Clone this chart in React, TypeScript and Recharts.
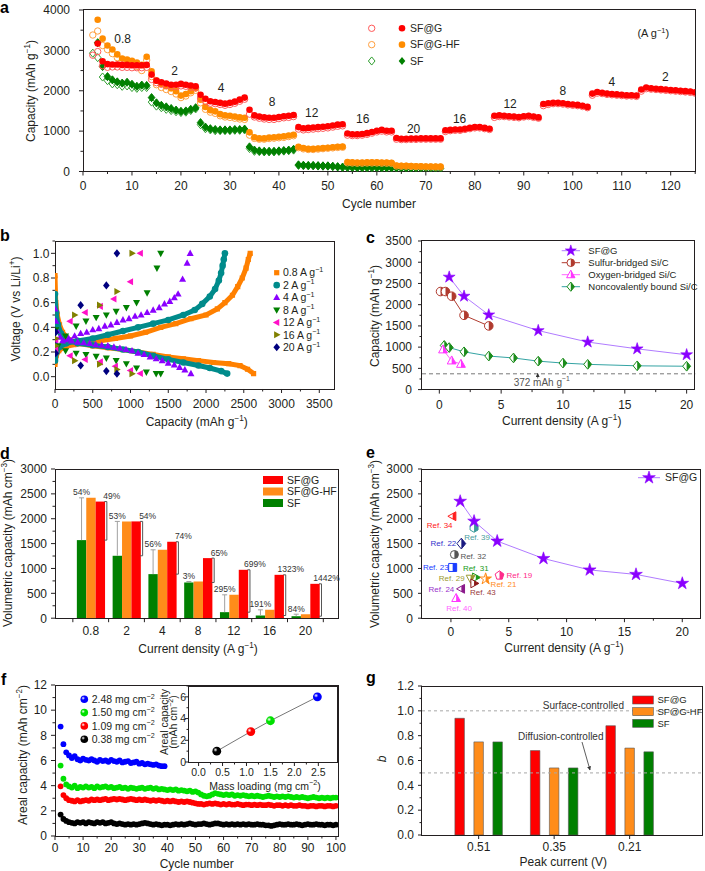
import React, { useId } from 'react';
import { ScatterChart, Scatter, BarChart, Bar, XAxis, YAxis, ReferenceLine } from 'recharts';

const FONT = '"Liberation Sans", Arial, Helvetica, sans-serif';
const INK = '#231f20';
const RED = '#ff0000';
const ORANGE = '#ff8c00';
const GREEN = '#008000';

// ---------- panel a: rate performance (capacity per cycle) ----------
const A_SFG_OPEN = [ // cycles 2..125
  2880, 2970, 2620, 2580, 2590, 2590, 2580, 2580, 2570, 2570, 2570, 2580,
  2280, 2200, 2160, 2130, 2110, 2100, 2120, 2110, 2090, 2070,
  1820, 1740, 1690, 1680, 1660, 1640, 1660, 1690, 1740, 1790,
  1420, 1350, 1320, 1300, 1290, 1290, 1310, 1330, 1340, 1360,
  1050, 1030, 1040, 1050, 1060, 1070, 1080, 1100, 1120, 1130,
  900, 890, 890, 900, 920, 950, 980, 1000, 980, 980,
  800, 790, 790, 795, 795, 800, 800, 800, 800, 800,
  990, 1010, 1020, 1020, 1040, 1060, 1080, 1080, 1060, 1040,
  1340, 1360, 1360, 1350, 1340, 1330, 1350, 1360, 1340, 1320,
  1630, 1660, 1680, 1680, 1670, 1650, 1640, 1630, 1610, 1580,
  1890, 1940, 1930, 1910, 1900, 1890, 1880, 1870, 1870, 1860,
  1990, 2050, 2040, 2030, 2020, 2010, 2000, 1990, 1980, 1970, 1960, 1940,
];
const A_SFG_FILL = [ // cycles 3..125
  3170, 2730, 2660, 2650, 2650, 2640, 2640, 2630, 2630, 2630, 2640,
  2400, 2250, 2210, 2180, 2150, 2150, 2170, 2150, 2130, 2110,
  1900, 1800, 1740, 1720, 1700, 1680, 1700, 1730, 1780, 1830,
  1530, 1390, 1360, 1340, 1330, 1330, 1350, 1370, 1380, 1400,
  1100, 1070, 1080, 1090, 1100, 1110, 1120, 1140, 1160, 1170,
  940, 920, 920, 930, 950, 980, 1010, 1030, 1010, 1010,
  830, 810, 810, 815, 815, 820, 820, 820, 820, 820,
  1020, 1030, 1040, 1040, 1060, 1080, 1100, 1100, 1080, 1060,
  1380, 1390, 1380, 1370, 1360, 1350, 1370, 1380, 1360, 1340,
  1670, 1690, 1700, 1700, 1690, 1670, 1660, 1650, 1630, 1600,
  1930, 1970, 1950, 1930, 1920, 1910, 1900, 1890, 1890, 1880,
  2030, 2080, 2060, 2050, 2040, 2030, 2020, 2010, 2000, 1990, 1980, 1960,
];
const A_HF_OPEN = [ // cycles 2..73
  3380, 3480, 3120, 3020, 2920, 2820, 2740, 2700, 2650, 2600, 2500, 2760,
  2350, 2150, 2080, 2030, 1980, 1920, 1830, 1870, 1950, 2010,
  1700, 1540, 1470, 1440, 1380, 1350, 1340, 1320, 1300, 1290,
  900, 820, 800, 800, 815, 825, 835, 845, 865, 885,
  590, 560, 545, 545, 555, 565, 575, 585, 595, 600,
  215, 210, 205, 205, 210, 210, 210, 205, 205, 200,
  135, 130, 130, 125, 120, 120, 115, 115, 110, 110,
];
const A_HF_FILL = [ // cycles 3..73
  3760, 3290, 3120, 3020, 2900, 2800, 2770, 2740, 2700, 2640, 2840,
  2480, 2250, 2170, 2110, 2060, 1990, 1880, 1920, 1990, 2060,
  1780, 1600, 1520, 1490, 1420, 1390, 1380, 1360, 1340, 1330,
  970, 850, 820, 820, 840, 850, 860, 870, 890, 910,
  610, 580, 560, 560, 570, 580, 590, 600, 610, 615,
  235, 225, 220, 220, 225, 225, 225, 220, 220, 215,
  150, 140, 140, 135, 130, 130, 125, 125, 120, 120,
];
const A_SF_OPEN = [ // cycles 2..73
  2930, 2820, 2340, 2250, 2170, 2150, 2110, 2120, 2080, 2060, 2080, 2080,
  1720, 1620, 1580, 1540, 1510, 1480, 1460, 1470, 1510, 1550,
  1160, 1060, 1030, 1010, 1010, 1010, 1010, 1020, 1020, 1030,
  570, 500, 490, 485, 485, 485, 495, 505, 515, 530,
  150, 145, 140, 140, 135, 130, 130, 120, 110, 100,
  95, 92, 90, 90, 88, 88, 88, 86, 86, 85,
  84, 82, 80, 80, 80, 78, 78, 77, 76, 76,
];
const A_SF_FILL = [ // cycles 3..73
  3190, 2600, 2350, 2270, 2220, 2190, 2210, 2160, 2110, 2140, 2130,
  1830, 1700, 1640, 1600, 1560, 1520, 1490, 1500, 1540, 1580,
  1210, 1100, 1060, 1040, 1030, 1030, 1030, 1040, 1040, 1050,
  610, 530, 510, 500, 500, 500, 510, 520, 530, 550,
  165, 155, 150, 150, 145, 140, 140, 130, 120, 110,
  110, 105, 100, 100, 100, 98, 98, 96, 96, 95,
  95, 92, 90, 90, 90, 88, 88, 87, 86, 85,
];
const A_RATE_TEXT = ['0.8', '2', '4', '8', '12', '16', '20', '16', '12', '8', '4', '2'];
const A_RATE_CYCLE = [8.1, 18.7, 28.2, 38.6, 46.7, 57.1, 67.5, 76.9, 87.2, 98, 108, 118.9];
const A_RATE_CAP = [3300, 2490, 2080, 1720, 1450, 1310, 1060, 1310, 1680, 1990, 2220, 2360];

// ---------- panel b: voltage profiles [capacity, voltage] ----------
const B08_DIS = [[0, 0.82], [10, 0.6], [30, 0.5], [60, 0.42], [100, 0.36], [180, 0.3], [300, 0.27], [500, 0.25], [700, 0.235], [900, 0.22], [1100, 0.2], [1300, 0.18], [1500, 0.16], [1700, 0.145], [1900, 0.13], [2100, 0.115], [2300, 0.105], [2450, 0.09], [2550, 0.06], [2630, 0.025]];
const B08_CHG = [[0, 0.1], [15, 0.17], [50, 0.21], [120, 0.24], [250, 0.26], [400, 0.27], [600, 0.29], [800, 0.31], [1000, 0.33], [1200, 0.36], [1400, 0.4], [1600, 0.43], [1800, 0.47], [2000, 0.5], [2150, 0.55], [2250, 0.6], [2350, 0.66], [2420, 0.73], [2480, 0.8], [2530, 0.88], [2560, 0.95], [2585, 1.0]];
const B2_DIS = [[0, 0.67], [15, 0.52], [40, 0.42], [80, 0.35], [150, 0.3], [300, 0.27], [500, 0.255], [700, 0.24], [900, 0.22], [1100, 0.2], [1300, 0.17], [1500, 0.14], [1700, 0.115], [1900, 0.09], [2050, 0.07], [2200, 0.045], [2280, 0.025]];
const B2_CHG = [[0, 0.13], [20, 0.2], [60, 0.24], [150, 0.27], [300, 0.29], [500, 0.31], [700, 0.34], [900, 0.37], [1100, 0.4], [1300, 0.43], [1500, 0.46], [1700, 0.5], [1850, 0.54], [1950, 0.59], [2050, 0.65], [2120, 0.71], [2170, 0.78], [2200, 0.84], [2220, 0.9], [2235, 0.95], [2250, 1.0]];
const B4_DIS = [[0, 0.55], [10, 0.45], [30, 0.37], [70, 0.32], [140, 0.3], [220, 0.29], [300, 0.28], [380, 0.275], [460, 0.27], [540, 0.26], [620, 0.255], [700, 0.25], [780, 0.24], [860, 0.23], [940, 0.22], [1020, 0.21], [1100, 0.19], [1180, 0.18], [1260, 0.16], [1340, 0.145], [1420, 0.13], [1500, 0.11], [1580, 0.095], [1650, 0.075], [1720, 0.055], [1800, 0.025]];
const B4_CHG = [[20, 0.26], [100, 0.29], [180, 0.31], [260, 0.33], [340, 0.35], [420, 0.36], [500, 0.38], [580, 0.39], [660, 0.41], [740, 0.42], [820, 0.44], [900, 0.46], [980, 0.47], [1060, 0.49], [1140, 0.5], [1220, 0.52], [1300, 0.54], [1380, 0.56], [1450, 0.59], [1520, 0.61], [1580, 0.64], [1630, 0.67], [1690, 0.79], [1750, 0.92], [1790, 1.0]];
const B8_DIS = [[10, 0.38], [40, 0.25], [140, 0.21], [280, 0.19], [410, 0.18], [545, 0.165], [680, 0.15], [810, 0.13], [945, 0.105], [1080, 0.07], [1210, 0.037], [1340, 0.025], [1400, 0.025]];
const B8_CHG = [[10, 0.2], [140, 0.33], [280, 0.41], [410, 0.45], [545, 0.48], [680, 0.5], [810, 0.53], [945, 0.56], [1080, 0.6], [1220, 0.68], [1350, 0.88], [1400, 1.0]];
const B12_DIS = [[10, 0.3], [200, 0.17], [400, 0.14], [600, 0.12], [800, 0.085], [1000, 0.05], [1130, 0.026]];
const B12_CHG = [[10, 0.22], [200, 0.45], [400, 0.52], [600, 0.57], [780, 0.63], [1000, 0.77], [1130, 1.0]];
const B16_DIS = [[10, 0.31], [260, 0.13], [590, 0.1], [820, 0.058], [1020, 0.024]];
const B16_CHG = [[10, 0.25], [260, 0.5], [590, 0.58], [820, 0.69], [1020, 1.0]];
const B20_DIS = [[10, 0.36], [340, 0.09], [680, 0.045], [820, 0.024]];
const B20_CHG = [[10, 0.19], [340, 0.58], [680, 0.74], [820, 1.0]];
const B_RATES = ['0.8', '2', '4', '8', '12', '16', '20'];

// ---------- panel c: capacity vs current density ----------
const C_SFG = [[0.8, 2650], [2, 2200], [4, 1760], [8, 1390], [12, 1120], [16, 960], [20, 820]];
const C_SULFUR = [[0.1, 2310], [0.5, 2310], [1, 2200], [2, 1750], [4, 1500]];
const C_OXYGEN = [[0.3, 940], [1, 680], [1.75, 600]];
const C_NONCOV = [[0.4, 1040], [0.8, 990], [2, 890], [4, 790], [6, 745], [8, 670], [10, 625], [12, 595], [16, 560], [20, 550]];
const C_GRAPHITE = 372;

// ---------- panel d: volumetric capacity bars ----------
const D_CATS = ['0.8', '2', '4', '8', '12', '16', '20'];
const D_SF = [1570, 1255, 886, 718, 121, 54, 40];
const D_HF = [2420, 1946, 1375, 738, 470, 168, 80];
const D_G = [2345, 1946, 1537, 1208, 973, 872, 691];
const D_PCT_HF = ['54%', '53%', '56%', '3%', '295%', '191%', '84%'];
const D_PCT_G = ['49%', '54%', '74%', '65%', '699%', '1323%', '1442%'];

// ---------- panel e: comparison with literature ----------
const E_SFG = [[0.8, 2350], [2, 1950], [4, 1550], [8, 1200], [12, 970], [16, 880], [20, 700]];
const E_REFS = [
  { ref: '34', x: 0.15, y: 2050 }, { ref: '39', x: 2.0, y: 1820 }, { ref: '22', x: 0.9, y: 1500 },
  { ref: '32', x: 0.3, y: 1280 }, { ref: '23', x: 0.15, y: 1020 }, { ref: '31', x: 2.15, y: 820 },
  { ref: '29', x: 1.7, y: 800 }, { ref: '43', x: 2.0, y: 700 }, { ref: '21', x: 3.0, y: 790 },
  { ref: '19', x: 4.2, y: 860 }, { ref: '24', x: 0.9, y: 590 }, { ref: '40', x: 0.45, y: 400 },
];

// ---------- panel f: areal capacity ----------
const F_248 = [8.7, 7.3, 6.65, 6.4, 6.2, 6.35, 6.1, 6.0, 6.15, 6.05, 6.0, 6.1, 6.0, 5.9, 6.05, 5.95, 6.0, 5.9, 6.05, 5.95, 5.9, 6.0, 5.85, 5.9, 5.95, 5.8, 5.85, 5.9, 5.75, 5.8, 5.7, 5.75, 5.7, 5.65, 5.7, 5.6, 5.55, 5.55];
const F_150 = [
  5.6, 4.55, 4.1, 3.95, 3.85, 4.0, 3.8, 3.9, 3.85, 3.95, 3.85, 3.9, 3.8, 3.95, 3.85, 3.9, 3.95, 3.85, 3.9, 3.8,
  3.85, 3.9, 3.8, 3.85, 3.75, 3.85, 3.8, 3.75, 3.8, 3.85, 3.75, 3.8, 3.85, 3.75, 3.8, 3.7, 3.75, 3.7, 3.65, 3.7,
  3.65, 3.7, 3.6, 3.65, 3.6, 3.55, 3.6, 3.5, 3.55, 3.45, 3.3, 3.2, 3.15, 3.2, 3.3, 3.4, 3.35, 3.3, 3.25, 3.3,
  3.25, 3.3, 3.2, 3.25, 3.2, 3.25, 3.2, 3.15, 3.2, 3.15, 3.2, 3.15, 3.1, 3.15, 3.2, 3.15, 3.1, 3.15, 3.1, 3.15,
  3.1, 3.15, 3.1, 3.05, 3.1, 3.05, 3.1, 3.05, 3.0, 3.05, 3.1, 3.05, 3.0, 3.05, 3.0, 3.05, 3.0, 3.05, 3.05,
];
const F_109 = [
  3.95, 3.25, 3.0, 2.85, 2.8, 2.75, 2.85, 2.75, 2.8, 2.85, 2.8, 2.9, 2.85, 2.9, 2.85, 2.9, 2.95, 2.85, 2.9, 2.95,
  2.9, 2.95, 2.9, 2.85, 2.9, 2.95, 2.9, 2.85, 2.9, 2.85, 2.9, 2.85, 2.8, 2.85, 2.8, 2.85, 2.8, 2.75, 2.8, 2.75,
  2.8, 2.75, 2.7, 2.75, 2.7, 2.75, 2.7, 2.65, 2.6, 2.55, 2.55, 2.5, 2.55, 2.6, 2.55, 2.6, 2.55, 2.5, 2.55, 2.5,
  2.55, 2.5, 2.5, 2.55, 2.5, 2.45, 2.5, 2.5, 2.45, 2.5, 2.45, 2.5, 2.45, 2.45, 2.5, 2.45, 2.4, 2.45, 2.45, 2.4,
  2.45, 2.4, 2.45, 2.4, 2.4, 2.45, 2.4, 2.4, 2.35, 2.4, 2.4, 2.35, 2.4, 2.4, 2.35, 2.4, 2.4, 2.35, 2.4,
];
const F_038 = [
  1.7, 1.35, 1.2, 1.1, 1.05, 1.0, 1.1, 1.05, 1.1, 1.0, 1.1, 1.05, 1.0, 1.1, 1.05, 1.1, 1.0, 1.05, 1.1, 1.0,
  0.95, 1.0, 0.95, 0.9, 0.95, 0.9, 0.95, 0.9, 0.95, 1.0, 1.05, 1.0, 0.95, 0.9, 0.95, 0.9, 0.85, 0.9, 0.9, 0.85,
  0.9, 0.95, 0.9, 0.95, 0.9, 0.95, 1.0, 0.95, 0.9, 0.95, 0.95, 1.0, 0.95, 0.9, 0.95, 1.0, 1.0, 0.95, 0.9, 0.95,
  0.9, 0.95, 0.9, 0.95, 0.9, 0.95, 0.9, 0.95, 0.9, 0.9, 0.95, 0.9, 0.9, 0.85, 0.85, 0.8, 0.85, 0.9, 0.95, 0.9,
  0.9, 0.95, 0.9, 0.9, 0.95, 0.9, 0.85, 0.9, 0.95, 0.9, 0.9, 0.95, 0.9, 0.9, 0.85, 0.9, 0.9, 0.85, 0.9,
];
const F_LOADING = [0.38, 1.09, 1.5, 2.48];
const F_AREAL = [1.0, 2.8, 3.8, 6.0];
const F_LABELS = ['2.48', '1.50', '1.09', '0.38'];

// ---------- panel g: b values ----------
const G_CATS = ['0.51', '0.35', '0.21'];
const G_SFG = [0.94, 0.68, 0.88];
const G_HF = [0.75, 0.54, 0.7];
const G_SF = [0.75, 0.54, 0.67];

// ---------- layout (page px) ----------
const PL = 50, PT = 10, PR = 10, PB = 26;
const M = { top: PT, right: PR, bottom: 0, left: 0 };
const R_A = [83.3, 9.5, 695.5, 171];
const R_B = [55, 241, 334.4, 389];
const R_C = [421.7, 240.7, 695, 389.3];
const R_D = [55, 469.3, 338.3, 618.5];
const R_E = [421.7, 469.3, 700.5, 618.5];
const R_F = [55, 685, 338.2, 836];
const R_FI = [188.5, 686, 337, 762];
const R_G = [421.7, 686, 702.7, 835];

const place = (r: number[]) => ({
  style: { position: 'absolute' as const, left: r[0] - PL, top: r[1] - PT },
  w: r[2] - r[0] + PL + PR,
  h: r[3] - r[1] + PT + PB,
});

const seq = (start: number, ys: number[]) => ys.map((y, i) => ({ x: start + i, y }));
const pairs = (a: number[][]) => a.map(([x, y]) => ({ x, y }));

function withMinors(majors: number[], hi?: number) {
  const out: number[] = [];
  majors.forEach((m, i) => {
    out.push(m);
    if (i < majors.length - 1) out.push((m + majors[i + 1]) / 2);
  });
  if (hi !== undefined) {
    const last = majors[majors.length - 1] + (majors[1] - majors[0]) / 2;
    if (last <= hi + 1e-9) out.push(last);
  }
  return out;
}
const isMajor = (majors: number[], v: number) => majors.some((m) => Math.abs(m - v) < 1e-6);

const xTick = (majors: number[], gap: number, fmt: (v: number) => string = String, fs = 12) => (p: any) => {
  const v = p.payload.value;
  const mj = isMajor(majors, v);
  return (
    <g>
      <line x1={p.x} x2={p.x} y1={p.y} y2={p.y + (mj ? 4 : 2.5)} stroke={INK} />
      {mj && <text x={p.x} y={p.y + gap} textAnchor="middle" fontSize={fs} fontFamily={FONT} fill={INK}>{fmt(v)}</text>}
    </g>
  );
};
const yTick = (majors: number[], gap: number, fmt: (v: number) => string = String, fs = 12) => (p: any) => {
  const v = p.payload.value;
  const mj = isMajor(majors, v);
  return (
    <g>
      <line x1={p.x} x2={p.x - (mj ? 4 : 2.5)} y1={p.y} y2={p.y} stroke={INK} />
      {mj && <text x={p.x - gap} y={p.y + fs * 0.36} textAnchor="end" fontSize={fs} fontFamily={FONT} fill={INK}>{fmt(v)}</text>}
    </g>
  );
};

function pts(kind: string, cx: number, cy: number, s: number) {
  const P: Record<string, number[][]> = {
    square: [[-1, -1], [1, -1], [1, 1], [-1, 1]],
    up: [[0, -1.2], [1.1, 0.8], [-1.1, 0.8]],
    down: [[0, 1.2], [1.1, -0.8], [-1.1, -0.8]],
    left: [[-1.2, 0], [0.8, -1.1], [0.8, 1.1]],
    right: [[1.2, 0], [-0.8, -1.1], [-0.8, 1.1]],
    diamond: [[0, -1.35], [1.1, 0], [0, 1.35], [-1.1, 0]],
  };
  let p = P[kind];
  if (!p) {
    const n = kind === 'hex' ? 6 : kind === 'pent' ? 5 : 10;
    p = Array.from({ length: n }, (_, i) => {
      const a = -Math.PI / 2 + (i * 2 * Math.PI) / n;
      const r = kind === 'star' ? (i % 2 ? 0.55 : 1.45) : 1.15;
      return [r * Math.cos(a), r * Math.sin(a)];
    });
  }
  return p.map(([a, b]) => `${cx + a * s},${cy + b * s}`).join(' ');
}

function Mark({ kind, cx, cy, s, color, fill, half, sw = 1 }: any) {
  const id = 'h' + useId().replace(/[^a-zA-Z0-9]/g, '');
  const body = (f: string, extra: any) =>
    kind === 'circle'
      ? <circle cx={cx} cy={cy} r={s} fill={f} {...extra} />
      : <polygon points={pts(kind, cx, cy, s)} fill={f} {...extra} />;
  if (half) {
    return (
      <g>
        <clipPath id={id}><rect x={cx} y={cy - 3 * s} width={3 * s} height={6 * s} /></clipPath>
        {body('#fff', { stroke: color, strokeWidth: sw })}
        {body(color, { clipPath: `url(#${id})` })}
      </g>
    );
  }
  return body(fill ?? color, { stroke: color, strokeWidth: sw });
}
const shp = (kind: string, s: number, color: string, extra: any = {}) => (p: any) =>
  <Mark kind={kind} cx={p.cx} cy={p.cy} s={s} color={color} {...extra} />;

function Lbl({ x, y, t, size = 12, anchor = 'middle', rot = false, color = INK, bold = false, italic = false }: any) {
  const parts = String(t).split(/(\^\{[^}]*\})/).filter((s) => s !== '');
  let up = false;
  return (
    <text x={x} y={y + size * 0.35} transform={rot ? `rotate(-90 ${x} ${y})` : undefined}
      fontSize={size} fontFamily={FONT} textAnchor={anchor} fill={color}
      fontWeight={bold ? 'bold' : 'normal'} fontStyle={italic ? 'italic' : 'normal'}>
      {parts.map((s, i) => {
        if (s.startsWith('^{')) {
          up = true;
          return <tspan key={i} fontSize={size * 0.68} dy={-size * 0.42}>{s.slice(2, -1)}</tspan>;
        }
        const dy = up ? size * 0.42 : 0;
        up = false;
        return <tspan key={i} dy={dy}>{s}</tspan>;
      })}
    </text>
  );
}

const Frame = ({ r }: { r: number[] }) => (
  <div style={{ position: 'absolute', left: r[0] - 0.5, top: r[1] - 0.5, width: r[2] - r[0] + 1, height: r[3] - r[1] + 1, border: `1px solid ${INK}`, boxSizing: 'border-box' }} />
);

const axisCommon = { tickSize: 0, tickMargin: 0, tickLine: false, axisLine: false, interval: 0 as const, allowDataOverflow: true };

const E_STYLE: Record<string, any> = {
  '34': { kind: 'left', color: '#ff2020', lab: '#ff2020', anchor: 'middle', dx: -13, dy: 8.5 },
  '39': { kind: 'hex', color: '#3a9a9a', lab: '#4a9c9c', anchor: 'middle', dx: 3, dy: 9.5 },
  '22': { kind: 'diamond', color: '#1a1a80', lab: '#3333cc', anchor: 'end', dx: -5, dy: 0 },
  '32': { kind: 'circle', color: '#555', lab: '#555', anchor: 'start', dx: 6, dy: 1.5 },
  '23': { kind: 'square', color: '#1a3cff', lab: '#1a3cff', anchor: 'end', dx: -4, dy: 0 },
  '31': { kind: 'right', color: '#1a9a1a', lab: '#1a9a1a', anchor: 'middle', dx: 0, dy: -9.5 },
  '29': { kind: 'down', color: '#9a9a30', lab: '#9a9a30', anchor: 'end', dx: -6, dy: 0 },
  '43': { kind: 'right', color: '#8b1a1a', lab: '#9a3a3a', anchor: 'start', dx: -4, dy: 9 },
  '21': { kind: 'star', color: '#ff8c1a', lab: '#ff8c1a', anchor: 'start', dx: 5, dy: 5.5 },
  '19': { kind: 'pent', color: '#ff2a8a', lab: '#ff2a8a', anchor: 'start', dx: 7, dy: 0 },
  '24': { kind: 'left', color: '#8b1a8b', lab: '#9933cc', anchor: 'end', dx: -7, dy: 0 },
  '40': { kind: 'up', color: '#ff33ff', lab: '#ff66ff', anchor: 'middle', dx: 3, dy: 10 },
};

const B_STYLE = [
  { kind: 'square', color: '#ff8000', s: 2.6, dense: true },
  { kind: 'circle', color: '#008b8b', s: 3.3, dense: true },
  { kind: 'up', color: '#8a00ff', s: 3.2 },
  { kind: 'down', color: '#008000', s: 3.2 },
  { kind: 'left', color: '#ff10c8', s: 3.2 },
  { kind: 'right', color: '#808000', s: 3.2 },
  { kind: 'diamond', color: '#00007f', s: 3 },
];
const B_DATA = [[B08_DIS, B08_CHG], [B2_DIS, B2_CHG], [B4_DIS, B4_CHG], [B8_DIS, B8_CHG], [B12_DIS, B12_CHG], [B16_DIS, B16_CHG], [B20_DIS, B20_CHG]];

const F_COLORS = ['#0000ff', '#00e000', '#ff0000', '#000000'];
const F_SERIES = [F_038, F_109, F_150];

export default function App() {
  const pa = place(R_A), pb = place(R_B), pc = place(R_C), pd = place(R_D);
  const pe = place(R_E), pf = place(R_F), pfi = place(R_FI), pg = place(R_G);

  const A_XMAJ = [0, 10, 20, 30, 40, 50, 60, 70, 80, 90, 100, 110, 120];
  const A_YMAJ = [0, 1000, 2000, 3000, 4000];
  const B_XMAJ = [0, 500, 1000, 1500, 2000, 2500, 3000, 3500];
  const B_YMAJ = [0, 0.2, 0.4, 0.6, 0.8, 1.0];
  const C_XMAJ = [0, 5, 10, 15, 20];
  const C_YMAJ = [0, 500, 1000, 1500, 2000, 2500, 3000, 3500];
  const D_YMAJ = [0, 500, 1000, 1500, 2000, 2500, 3000];
  const F_XMAJ = [0, 10, 20, 30, 40, 50, 60, 70, 80, 90, 100];
  const F_YMAJ = [0, 2, 4, 6, 8, 10, 12];
  const FI_XMAJ = [0, 0.5, 1, 1.5, 2, 2.5];
  const FI_YMAJ = [0, 2, 4, 6];
  const G_YMAJ = [0, 0.2, 0.4, 0.6, 0.8, 1.0, 1.2];
  const f1 = (v: number) => v.toFixed(1);

  const dRows = D_CATS.map((c, i) => ({ c, sf: D_SF[i], hf: D_HF[i], g: D_G[i], pHF: D_PCT_HF[i], pG: D_PCT_G[i] }));
  const gRows = G_CATS.map((c, i) => ({ c, g: G_SFG[i], hf: G_HF[i], sf: G_SF[i] }));
  const HB = 17.9;

  const sfShape = (p: any) => {
    const { x, y, width, height, payload } = p;
    const base = y + height;
    const top = base - (payload.hf * height) / payload.sf;
    const cx = x + width / 2;
    return (
      <g>
        <rect x={x} y={y} width={width} height={height} fill={GREEN} />
        <line x1={cx} x2={cx} y1={y} y2={top} stroke="#a0a0a0" />
        <line x1={cx - 2.5} x2={cx + 2.5} y1={top} y2={top} stroke="#a0a0a0" />
        <text x={cx} y={top - 2.5} textAnchor="middle" fontSize={8.5} fontFamily={FONT} fill="#333">{payload.pHF}</text>
      </g>
    );
  };
  const gShape = (p: any) => {
    const { x, y, width, height, payload } = p;
    const base = y + height;
    const low = base - (payload.sf * height) / payload.g;
    const bx = x + width + 1.8;
    return (
      <g>
        <rect x={x} y={y} width={width} height={height} fill={RED} />
        <line x1={bx} x2={bx} y1={y} y2={low} stroke="#555" />
        <line x1={bx - 2.5} x2={bx} y1={y} y2={y} stroke="#555" />
        <line x1={bx - 2.5} x2={bx} y1={low} y2={low} stroke="#555" />
        <text x={bx + 5} y={y - 2.5} textAnchor="middle" fontSize={8.5} fontFamily={FONT} fill="#333">{payload.pG}</text>
      </g>
    );
  };
  const dTick = (p: any) => (
    <g>
      <line x1={p.x - HB} x2={p.x - HB} y1={p.y} y2={p.y + 4} stroke={INK} />
      {p.index === D_CATS.length - 1 && <line x1={p.x + HB} x2={p.x + HB} y1={p.y} y2={p.y + 4} stroke={INK} />}
      <text x={p.x} y={p.y + 17.2} textAnchor="middle" fontSize={12} fontFamily={FONT} fill={INK}>{p.payload.value}</text>
    </g>
  );
  const gTick = (p: any) => (
    <g>
      <line x1={p.x} x2={p.x} y1={p.y} y2={p.y + 4} stroke={INK} />
      <text x={p.x} y={p.y + 16} textAnchor="middle" fontSize={12} fontFamily={FONT} fill={INK}>{p.payload.value}</text>
    </g>
  );

  const rateLabels = A_RATE_TEXT.map((t, i) => ({ x: A_RATE_CYCLE[i], y: A_RATE_CAP[i], t }));
  const textShape = (p: any) => (
    <text x={p.cx} y={p.cy + 4.3} textAnchor="middle" fontSize={12} fontFamily={FONT} fill={INK}>{p.payload.t}</text>
  );
  const refShape = (p: any) => {
    const st = E_STYLE[p.payload.ref];
    return (
      <g>
        <Mark kind={st.kind} cx={p.cx} cy={p.cy} s={st.kind === 'star' ? 4.2 : 4} color={st.color} half />
        <text x={p.cx + st.dx} y={p.cy + st.dy + 2.8} textAnchor={st.anchor} fontSize={8} fontFamily={FONT} fill={st.lab}>Ref. {p.payload.ref}</text>
      </g>
    );
  };
  const ball = (i: number, r: number) => (p: any) => <circle cx={p.cx} cy={p.cy} r={r} fill={`url(#ball${i})`} />;

  return (
    <div style={{ position: 'absolute', left: 0, top: 0, width: 705, height: 871, background: '#fff', fontFamily: FONT, overflow: 'hidden' }}>
      {[R_A, R_B, R_C, R_D, R_E, R_F, R_G].map((r, i) => <Frame key={i} r={r} />)}

      {/* a */}
      <div style={pa.style}>
        <ScatterChart width={pa.w} height={pa.h} margin={M}>
          <XAxis type="number" dataKey="x" domain={[0, 125]} ticks={withMinors(A_XMAJ, 125)} tick={xTick(A_XMAJ, 18.3)} height={PB} {...axisCommon} />
          <YAxis type="number" dataKey="y" domain={[0, 4000]} ticks={withMinors(A_YMAJ)} tick={yTick(A_YMAJ, 13)} width={PL} {...axisCommon} />
          <Scatter data={seq(2, A_SF_OPEN)} shape={shp('diamond', 3, '#2e9e2e', { fill: 'none' })} isAnimationActive={false} />
          <Scatter data={seq(3, A_SF_FILL)} shape={shp('diamond', 3, GREEN)} isAnimationActive={false} />
          <Scatter data={seq(2, A_HF_OPEN)} shape={shp('circle', 3.2, '#ffa040', { fill: 'none' })} isAnimationActive={false} />
          <Scatter data={seq(3, A_HF_FILL)} shape={shp('circle', 3.3, ORANGE, { sw: 0 })} isAnimationActive={false} />
          <Scatter data={seq(2, A_SFG_OPEN)} shape={shp('circle', 3.2, '#ff5a5a', { fill: 'none' })} isAnimationActive={false} />
          <Scatter data={seq(3, A_SFG_FILL)} shape={shp('circle', 3.3, RED, { sw: 0 })} isAnimationActive={false} />
          <Scatter data={rateLabels} shape={textShape} isAnimationActive={false} />
        </ScatterChart>
      </div>

      {/* b */}
      <div style={pb.style}>
        <ScatterChart width={pb.w} height={pb.h} margin={M}>
          <XAxis type="number" dataKey="x" domain={[0, 3700]} ticks={withMinors(B_XMAJ, 3700)} tick={xTick(B_XMAJ, 19.5)} height={PB} {...axisCommon} />
          <YAxis type="number" dataKey="y" domain={[-0.1, 1.1]} ticks={withMinors(B_YMAJ, 1.1)} tick={yTick(B_YMAJ, 5.5, f1)} width={PL} {...axisCommon} />
          {B_DATA.map((pair, i) =>
            pair.map((arr, j) => (
              <Scatter key={`${i}-${j}`} data={pairs(arr)}
                line={B_STYLE[i].dense ? { stroke: B_STYLE[i].color, strokeWidth: 5 } : false}
                shape={shp(B_STYLE[i].kind, B_STYLE[i].s, B_STYLE[i].color, { sw: 0 })} isAnimationActive={false} />
            ))
          )}
        </ScatterChart>
      </div>

      {/* c */}
      <div style={pc.style}>
        <ScatterChart width={pc.w} height={pc.h} margin={M}>
          <XAxis type="number" dataKey="x" domain={[-1.4, 20.7]} ticks={withMinors(C_XMAJ)} tick={xTick(C_XMAJ, 19.8)} height={PB} {...axisCommon} />
          <YAxis type="number" dataKey="y" domain={[0, 3500]} ticks={withMinors(C_YMAJ)} tick={yTick(C_YMAJ, 10)} width={PL} {...axisCommon} />
          <ReferenceLine y={C_GRAPHITE} stroke="#777" strokeDasharray="4 3" />
          <Scatter data={pairs(C_NONCOV)} line={{ stroke: '#33a3a3', strokeWidth: 1 }} shape={shp('diamond', 3.6, '#1a8c1a', { half: true })} isAnimationActive={false} />
          <Scatter data={pairs(C_OXYGEN)} line={{ stroke: '#ff66ff', strokeWidth: 1 }} shape={shp('up', 4, '#ff33ff', { half: true })} isAnimationActive={false} />
          <Scatter data={pairs(C_SULFUR)} line={{ stroke: '#b03a2e', strokeWidth: 1 }} shape={shp('circle', 4.3, '#b03a2e', { half: true })} isAnimationActive={false} />
          <Scatter data={pairs(C_SFG)} line={{ stroke: '#b07aff', strokeWidth: 1 }} shape={shp('star', 4.3, '#8a00ff', { sw: 0.6 })} isAnimationActive={false} />
        </ScatterChart>
      </div>

      {/* d */}
      <div style={pd.style}>
        <BarChart width={pd.w} height={pd.h} margin={M} data={dRows} barGap={0} barSize={9.4}>
          <XAxis dataKey="c" type="category" padding={{ left: 17.85, right: 15 }} tick={dTick} height={PB} tickSize={0} tickMargin={0} tickLine={false} axisLine={false} interval={0} />
          <YAxis type="number" domain={[0, 3000]} ticks={withMinors(D_YMAJ)} tick={yTick(D_YMAJ, 8)} width={PL} {...axisCommon} />
          <Bar dataKey="sf" fill={GREEN} shape={sfShape} isAnimationActive={false} />
          <Bar dataKey="hf" fill="#ff8c1a" isAnimationActive={false} />
          <Bar dataKey="g" fill={RED} shape={gShape} isAnimationActive={false} />
        </BarChart>
      </div>

      {/* e */}
      <div style={pe.style}>
        <ScatterChart width={pe.w} height={pe.h} margin={M}>
          <XAxis type="number" dataKey="x" domain={[-2.5, 21.6]} ticks={withMinors(C_XMAJ)} tick={xTick(C_XMAJ, 17.5)} height={PB} {...axisCommon} />
          <YAxis type="number" dataKey="y" domain={[0, 3000]} ticks={withMinors(D_YMAJ)} tick={yTick(D_YMAJ, 9)} width={PL} {...axisCommon} />
          <Scatter data={E_REFS} shape={refShape} isAnimationActive={false} />
          <Scatter data={pairs(E_SFG)} line={{ stroke: '#b07aff', strokeWidth: 1 }} shape={shp('star', 4.6, '#8a00ff', { sw: 0.6 })} isAnimationActive={false} />
        </ScatterChart>
      </div>

      {/* f */}
      <div style={pf.style}>
        <ScatterChart width={pf.w} height={pf.h} margin={M}>
          <XAxis type="number" dataKey="x" domain={[0, 100.8]} ticks={withMinors(F_XMAJ)} tick={xTick(F_XMAJ, 16.5)} height={PB} {...axisCommon} />
          <YAxis type="number" dataKey="y" domain={[0, 12]} ticks={withMinors(F_YMAJ)} tick={yTick(F_YMAJ, 8)} width={PL} {...axisCommon} />
          {F_SERIES.map((s, i) => (
            <Scatter key={i} data={seq(2, s)} shape={shp('circle', 2.9, F_COLORS[3 - i], { sw: 0 })} isAnimationActive={false} />
          ))}
          <Scatter data={seq(2, F_248)} shape={shp('circle', 2.9, F_COLORS[0], { sw: 0 })} isAnimationActive={false} />
        </ScatterChart>
      </div>
      <div style={{ position: 'absolute', left: R_FI[0], top: R_FI[1], width: R_FI[2] - R_FI[0], height: R_FI[3] - R_FI[1], background: '#fff' }} />
      <Frame r={R_FI} />
      <div style={pfi.style}>
        <ScatterChart width={pfi.w} height={pfi.h} margin={M}>
          <XAxis type="number" dataKey="x" domain={[-0.2, 2.9]} ticks={withMinors(FI_XMAJ)} tick={xTick(FI_XMAJ, 14.2, f1, 10.5)} height={PB} {...axisCommon} />
          <YAxis type="number" dataKey="y" domain={[0, 7]} ticks={withMinors(FI_YMAJ, 7)} tick={yTick(FI_YMAJ, 3, String, 10.5)} width={PL} {...axisCommon} />
          <Scatter data={F_LOADING.map((x, i) => ({ x, y: F_AREAL[i] }))} line={{ stroke: '#777', strokeWidth: 1 }} shape={(p: any) => ball(3 - p.index, 4.4)(p)} isAnimationActive={false} />
        </ScatterChart>
      </div>

      {/* g */}
      <div style={pg.style}>
        <BarChart width={pg.w} height={pg.h} margin={M} data={gRows} barGap={9.5} barSize={9.5}>
          <XAxis dataKey="c" type="category" padding={{ left: 18.9, right: 35.6 }} tick={gTick} height={PB} tickSize={0} tickMargin={0} tickLine={false} axisLine={false} interval={0} />
          <YAxis type="number" domain={[0, 1.2]} ticks={withMinors(G_YMAJ)} tick={yTick(G_YMAJ, 8, f1)} width={PL} {...axisCommon} />
          <ReferenceLine y={1.0} stroke="#a8a8a8" strokeDasharray="3 3" />
          <ReferenceLine y={0.5} stroke="#a8a8a8" strokeDasharray="3 3" />
          <Bar dataKey="g" fill={RED} stroke="#555" strokeWidth={0.6} isAnimationActive={false} />
          <Bar dataKey="hf" fill="#ff8c1a" stroke="#555" strokeWidth={0.6} isAnimationActive={false} />
          <Bar dataKey="sf" fill={GREEN} stroke="#555" strokeWidth={0.6} isAnimationActive={false} />
        </BarChart>
      </div>

      {/* titles, legends, annotations */}
      <svg width={705} height={871} style={{ position: 'absolute', left: 0, top: 0, pointerEvents: 'none' }}>
        <defs>
          {F_COLORS.map((c, i) => (
            <radialGradient key={i} id={`ball${i}`} cx="35%" cy="35%" r="70%">
              <stop offset="0%" stopColor="#fff" />
              <stop offset="35%" stopColor={c} />
              <stop offset="100%" stopColor={i === 3 ? '#000' : c} stopOpacity={1} />
            </radialGradient>
          ))}
          <marker id="arr" viewBox="0 0 10 10" refX="9" refY="5" markerWidth="5" markerHeight="5" orient="auto">
            <path d="M0,0 L10,5 L0,10 z" fill="#333" />
          </marker>
        </defs>

        {[['a', 0, 12.5], ['b', 0, 240.5], ['c', 366, 242.5], ['d', 0, 458.5], ['e', 366, 457.5], ['f', 1, 684.5], ['g', 366, 683]].map(([t, x, y]) => (
          <text key={t as string} x={x as number} y={y as number} fontSize={16} fontWeight="bold" fontFamily={FONT} fill="#000">{t}</text>
        ))}

        <Lbl x={31} y={91} t="Capacity (mAh g^{−1})" rot />
        <Lbl x={379} y={204} t="Cycle number" />
        <Lbl x={16} y={309} t="Voltage (V vs Li/Li^{+})" rot />
        <Lbl x={196.7} y={422} t="Capacity (mAh g^{−1})" />
        <Lbl x={375} y={316} t="Capacity (mAh g^{−1})" rot />
        <Lbl x={561.7} y={421} t="Current density (A g^{−1})" />
        <Lbl x={7.5} y={543} t="Volumetric capacity (mAh cm^{−3})" rot />
        <Lbl x={198} y={649} t="Current density (A g^{−1})" />
        <Lbl x={375} y={544} t="Volumetric capacity (mAh cm^{−3})" rot />
        <Lbl x={564} y={648} t="Current density (A g^{−1})" />
        <Lbl x={22.5} y={755} t="Areal capacity (mAh cm^{−2})" rot />
        <Lbl x={196.7} y={864} t="Cycle number" />
        <Lbl x={164.5} y={722} t="Areal capacity" rot size={10.5} />
        <Lbl x={173.5} y={722} t="(mAh cm^{−2})" rot size={10.5} />
        <Lbl x={265} y={786} t="Mass loading (mg cm^{−2})" size={10.5} />
        <Lbl x={382} y={759} t="b" rot italic />
        <Lbl x={563.3} y={862} t="Peak current (V)" />

        {/* a legend */}
        {[['SF@G', RED, '#ff5a5a', 'circle'], ['SF@G-HF', ORANGE, '#ffa040', 'circle'], ['SF', GREEN, '#2e9e2e', 'diamond']].map(([t, c, o, k], i) => {
          const y = 28.3 + i * 16.35;
          return (
            <g key={t}>
              <Mark kind={k} cx={371.7} cy={y} s={k === 'circle' ? 3.2 : 3} color={o} fill="none" />
              <Mark kind={k} cx={402} cy={y} s={k === 'circle' ? 3.3 : 3} color={c} sw={0} />
              <Lbl x={410} y={y} t={t} size={10.5} anchor="start" />
            </g>
          );
        })}
        <Lbl x={653.3} y={33.3} t="(A g^{−1})" size={11} />

        {/* b legend */}
        {B_RATES.map((r, i) => {
          const y = 272.7 + i * 12.43;
          const st = B_STYLE[i];
          return (
            <g key={r}>
              <Mark kind={st.kind} cx={276.7} cy={y} s={st.s} color={st.color} sw={0} />
              <Lbl x={283} y={y} t={`${r} A g^{−1}`} size={10.5} anchor="start" />
            </g>
          );
        })}

        {/* c legend */}
        {[
          ['SF@G', 'star', '#8a00ff', '#b07aff', false],
          ['Sulfur-bridged Si/C', 'circle', '#b03a2e', '#b03a2e', true],
          ['Oxygen-bridged Si/C', 'up', '#ff33ff', '#ff66ff', true],
          ['Noncovalently bound Si/C', 'diamond', '#1a8c1a', '#33a3a3', true],
        ].map(([t, k, c, lc, h], i) => {
          const y = 250.7 + i * 12;
          return (
            <g key={t as string}>
              <line x1={561.7} x2={580} y1={y} y2={y} stroke={lc as string} />
              <Mark kind={k} cx={570.8} cy={y} s={k === 'star' ? 4 : k === 'diamond' ? 3.4 : 3.8} color={c} half={h} sw={k === 'star' ? 0.6 : 1} />
              <Lbl x={588.3} y={y} t={t} size={9.5} anchor="start" />
            </g>
          );
        })}
        <Lbl x={541.7} y={382} t="372 mAh g^{−1}" size={10} color="#555" />
        <line x1={537.7} x2={537.7} y1={378.5} y2={373.5} stroke="#555" strokeWidth={0.8} markerEnd="url(#arr)" />

        {/* d legend */}
        {[['SF@G', RED], ['SF@G-HF', '#ff8c1a'], ['SF', GREEN]].map(([t, c], i) => {
          const y = 480 + i * 11.5;
          return (
            <g key={t}>
              <rect x={263} y={y - 4} width={20} height={8} fill={c} />
              <Lbl x={287} y={y} t={t} size={10.5} anchor="start" />
            </g>
          );
        })}

        {/* e legend */}
        <line x1={638} x2={660} y1={477.7} y2={477.7} stroke="#b07aff" />
        <Mark kind="star" cx={649} cy={477.7} s={4.6} color="#8a00ff" sw={0.6} />
        <Lbl x={665} y={477.7} t="SF@G" size={10.5} anchor="start" />

        {/* f legend */}
        {F_LABELS.map((t, i) => {
          const y = 699.3 + i * 13.3;
          return (
            <g key={t}>
              <circle cx={84.3} cy={y} r={3.8} fill={`url(#ball${i})`} />
              <Lbl x={91.7} y={y} t={`${t} mg cm^{−2}`} size={10.5} anchor="start" />
            </g>
          );
        })}

        {/* g legend + annotations */}
        {[['SF@G', RED], ['SF@G-HF', '#ff8c1a'], ['SF', GREEN]].map(([t, c], i) => {
          const y = 700 + i * 11.65;
          return (
            <g key={t}>
              <rect x={632.7} y={y - 4} width={20.6} height={8} fill={c} stroke="#555" strokeWidth={0.6} />
              <Lbl x={657.5} y={y} t={t} size={9.5} anchor="start" />
            </g>
          );
        })}
        <Lbl x={624} y={705} t="Surface-controlled" size={10} anchor="end" color="#333" />
        <Lbl x={560.8} y={736} t="Diffusion-controlled" size={10} color="#333" />
        <line x1={582} y1={742} x2={590} y2={770} stroke="#333" strokeWidth={0.8} markerEnd="url(#arr)" />
      </svg>
    </div>
  );
}
